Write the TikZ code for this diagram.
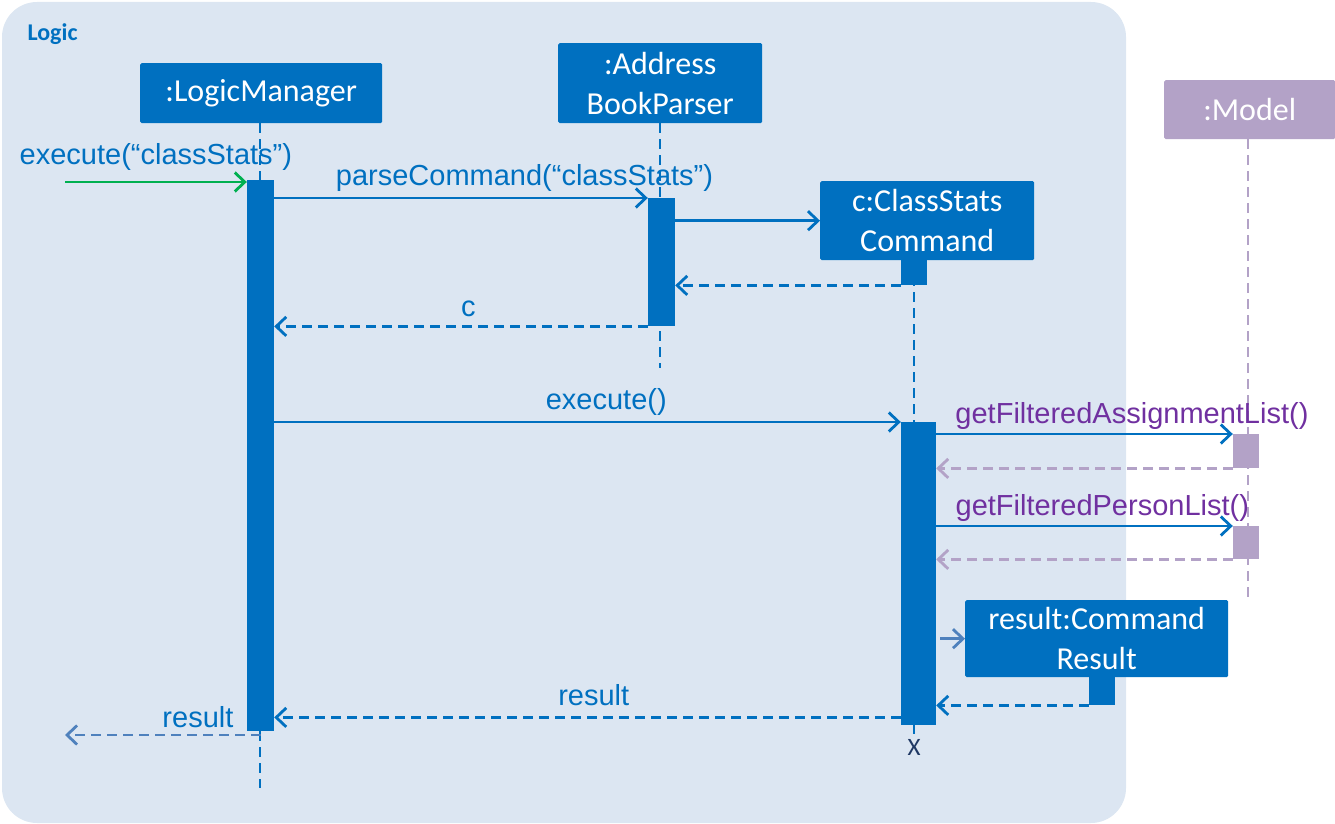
\documentclass[tikz,border=0pt]{standalone}
\usepackage{fontspec}
\setmainfont{Liberation Sans}
\newfontfamily\boxfont{Carlito}
\usetikzlibrary{arrows.meta}

\definecolor{logicbg}{HTML}{DCE6F2}
\definecolor{umlblue}{HTML}{0070C0}
\definecolor{modelpurple}{HTML}{B3A2C7}
\definecolor{callpurple}{HTML}{7030A0}
\definecolor{startgreen}{HTML}{00B050}
\definecolor{resultblue}{HTML}{4F81BD}
\definecolor{xnavy}{HTML}{1F3864}

\begin{document}
\begin{tikzpicture}[x=1pt,y=-1pt,
>={Straight Barb[length=10pt,width=19pt]},
objnode/.style={rectangle, fill=umlblue, text=white, rounded corners=1.5pt, inner sep=0pt, anchor=north west, align=center, font=\boxfont\fontsize{32}{40}\selectfont},
actbar/.style={rectangle, fill=umlblue, inner sep=0pt, anchor=north, minimum width=27pt},
modelbar/.style={rectangle, fill=modelpurple, inner sep=0pt, anchor=north, minimum width=26pt},
lifeline/.style={umlblue, line width=2.8pt, dash pattern=on 10pt off 6pt},
msgarrow/.style={->, umlblue, line width=2.8pt},
retarrow/.style={->, umlblue, line width=2.8pt, dash pattern=on 10pt off 6pt},
msglabel/.style={font=\fontsize{29}{34}\selectfont, text=umlblue, yshift=2pt},
modellabel/.style={font=\fontsize{29}{34}\selectfont, text=callpurple}
]
\useasboundingbox (0,0) rectangle (1335,824);

%Frame
\fill[logicbg, rounded corners=35pt] (2,2) rectangle (1126,823);
\node[anchor=west, text=umlblue, font=\boxfont\bfseries\fontsize{24}{28}\selectfont] (logic) at (24,34) {Logic};

%Objects
\node[objnode, minimum width=242pt, minimum height=60pt] (lm) at (140,63) {:LogicManager};
\node[objnode, minimum width=204pt, minimum height=80pt] (abp) at (558,43) {:Address\\BookParser};
\node[objnode, minimum width=214pt, minimum height=79pt] (csc) at (820,181) {c:ClassStats\\Command};
\node[objnode, fill=modelpurple, minimum width=171pt, minimum height=59pt] (model) at (1164,80) {:Model};
\node[objnode, minimum width=263pt, minimum height=77pt] (cr) at (965,600) {result:Command\\Result};

%Lifelines
\coordinate (lmend) at (260,788);
\coordinate (abpend) at (660,368);
\coordinate (cscend) at (914,738);
\coordinate (modelend) at (1248,600);
\draw[lifeline] (lm.south -| lmend) -- (lmend);
\draw[lifeline] (abp.south -| abpend) -- (abpend);
\draw[lifeline] (csc.south -| cscend) -- (cscend);
\draw[lifeline, modelpurple] (model.south -| modelend) -- (modelend);

%Activations
\node[actbar, minimum height=551pt] (lmact) at (260.5,180) {};
\node[actbar, minimum height=128pt] (abpact) at (661.5,198) {};
\node[actbar, minimum width=26pt, minimum height=25pt] (cscstub) at (914,260) {};
\node[actbar, minimum width=35pt, minimum height=303pt] (cscact) at (918.5,422) {};
\node[modelbar, minimum height=34pt] (m1act) at (1246,434) {};
\node[modelbar, minimum height=33pt] (m2act) at (1246,526) {};
\node[actbar, minimum width=26pt, minimum height=28pt] (crstub) at (1102,677) {};
\node[text=xnavy, font=\boxfont\fontsize{25}{28}\selectfont, inner sep=0pt] (destroy) at (914,747) {X};

%Messages
\coordinate (entry) at (65,182);
\coordinate (exit) at (65,735);
\draw[msgarrow, startgreen] (entry) -- node[msglabel, above, pos=0.5, yshift=5pt] {execute(“classStats”)} (entry -| lmact.west);
\draw[msgarrow] (lmact.east |- abpact.north) -- node[msglabel, above, pos=0.67] {parseCommand(“classStats”)} (abpact.north west);
\draw[msgarrow] (abpact.east |- csc.west) -- (csc.west);
\draw[retarrow] (cscstub.south west) -- (cscstub.south west -| abpact.east);
\draw[retarrow] (abpact.south west) -- node[msglabel, above, pos=0.48, yshift=3pt] {c} (abpact.south west -| lmact.east);
\draw[msgarrow] (lmact.east |- cscact.north) -- node[msglabel, above, pos=0.53] {execute()} (cscact.north west);
\draw[msgarrow] (cscact.east |- m1act.north) -- node[modellabel, above, pos=0.66] {getFilteredAssignmentList()} (m1act.north west);
\draw[retarrow, modelpurple] (m1act.south west) -- (m1act.south west -| cscact.east);
\draw[msgarrow] (cscact.east |- m2act.north) -- node[modellabel, above, pos=0.56] {getFilteredPersonList()} (m2act.north west);
\draw[retarrow, modelpurple] (m2act.south west) -- (m2act.south west -| cscact.east);
\draw[msgarrow, resultblue] ([xshift=4pt]cscact.east |- cr.west) -- (cr.west);
\draw[retarrow] (crstub.south west) -- (crstub.south west -| cscact.east);
\draw[retarrow] ([yshift=8pt]cscact.south west) -- node[msglabel, above, pos=0.49, yshift=5pt] {result} ([yshift=8pt]cscact.south west -| lmact.east);
\draw[retarrow, resultblue] (lmact.south |- exit) -- node[msglabel, above, pos=0.32] {result} (exit);
\end{tikzpicture}
\end{document}
